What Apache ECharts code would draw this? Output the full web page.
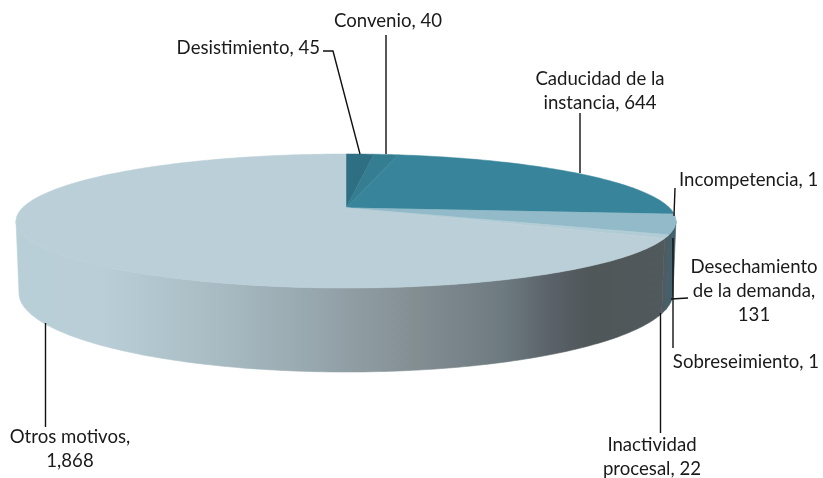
<!DOCTYPE html>
<html>
<head>
<meta charset="utf-8">
<style>
  html, body { margin: 0; padding: 0; background: #fff; }
  #chart { width: 823px; height: 478px; }
</style>
<script src="https://cdn.jsdelivr.net/npm/echarts@6/dist/echarts.min.js"></script>
</head>
<body>
<div id="chart"></div>
<script>
// clockwise from 12 o'clock
const categories = ['Desistimiento', 'Convenio', 'Caducidad de la\ninstancia', 'Incompetencia', 'Desechamiento\nde la demanda', 'Sobreseimiento', 'Inactividad\nprocesal', 'Otros motivos']
const values = [45, 40, 644, 1, 131, 1, 22, 1868]
const separators = [', ', ', ', ', ', ', ', ',\n', ', ', ', ', ',\n']

const topColors = ['#2f6f83', '#357d91', '#38859b', '#7fb0c0', '#93bac9', '#a3c4d0', '#b2ccd6', '#bacfd7']
const wallColors = ['#2f6f83', '#357d91', '#38859b', '#5b7f8c', '#43606c', '#4a5f68', '#4d5c62', null]
const wallStops = [
  [0, '#b9cfd8'], [0.13, '#b9ced7'], [0.3, '#a9bcc4'], [0.46, '#96a6ac'], [0.6, '#848f94'],
  [0.74, '#6d7a80'], [0.81, '#5a6169'], [0.87, '#505759'], [1, '#50595c'],
]

// label anchors and leader lines, same order as categories
const labelAnchors = [
  [320, 48, 'right'], [388, 21, 'center'], [600, 91, 'center'], [679, 180, 'left'],
  [754, 291, 'center'], [746, 362, 'center'], [652, 457, 'center'], [70, 449, 'center'],
]
const leaders = [
  [[323, 51], [333, 51], [360, 154]],
  [[386, 35], [386, 154]],
  [[580, 113], [580, 173]],
  [[675, 188], [674, 216]],
  [[688, 298], [671, 299]],
  [[673, 348], [673, 238]],
  [[660.5, 433], [660.5, 313]],
  [[45.5, 427], [45.5, 323]],
]

// perspective of the pie top and the ellipse of its bottom rim
const cx = 346, cy = 208, radius = 323.7, depth = 64.5, tilt = 0.194
const edgeRx = 330, rimRx = 327, rimY = 293, rimRy = 79
const wallFrom = 101, wallTo = 259

const total = values.reduce((a, b) => a + b, 0)

function topPoint(deg) {
  const t = deg * Math.PI / 180
  const u = Math.sin(t), v = Math.cos(t), w = 1 + tilt * v
  return [cx + radius * u / w, cy - depth * v / w]
}

function rimPoint(p) {
  const f = Math.max(-1, Math.min(1, (p[0] - cx) / edgeRx))
  return [cx + f * rimRx, rimY + rimRy * Math.sqrt(1 - f * f)]
}

function arc(from, to) {
  const pts = []
  const n = Math.max(2, Math.ceil((to - from) / 1))
  for (let i = 0; i <= n; i++) pts.push(topPoint(from + (to - from) * i / n))
  return pts
}

function renderSlice(params, api) {
  const i = params.dataIndex
  const before = values.slice(0, i).reduce((a, b) => a + b, 0)
  const start = before / total * 360
  const end = (before + api.value(0)) / total * 360
  const children = []

  const from = Math.max(start, wallFrom), to = Math.min(end, wallTo)
  if (to > from) {
    const front = arc(from, to)
    const fill = wallColors[i] || new echarts.graphic.LinearGradient(16, 0, 676, 0,
      wallStops.map((s) => ({ offset: s[0], color: s[1] })), true)
    children.push({
      type: 'polygon',
      z2: 1,
      shape: { points: front.concat(front.map(rimPoint).reverse()) },
      style: { fill: fill, stroke: fill, lineWidth: 0.6 },
    })
  }

  children.push({
    type: 'polygon',
    z2: 2,
    shape: { points: [[cx, cy]].concat(arc(start, end)) },
    style: { fill: topColors[i], stroke: topColors[i], lineWidth: 0.5 },
  })
  children.push({
    type: 'polyline',
    z2: 3,
    shape: { points: leaders[i] },
    style: { fill: 'none', stroke: '#111', lineWidth: 1.4 },
  })
  children.push({
    type: 'text',
    z2: 4,
    x: labelAnchors[i][0],
    y: labelAnchors[i][1],
    style: {
      text: categories[i] + separators[i] + api.value(0).toLocaleString('en-US'),
      fill: '#1a1a1a',
      font: '18.6px Lato',
      lineHeight: 24,
      align: labelAnchors[i][2],
      verticalAlign: 'middle',
    },
  })
  return { type: 'group', children }
}

const chart = echarts.init(document.getElementById('chart'), null, { renderer: 'canvas' })
chart.setOption({
  animation: false,
  backgroundColor: '#fff',
  series: [{
    type: 'custom',
    coordinateSystem: 'none',
    renderItem: renderSlice,
    data: values,
    clip: false,
  }],
})
</script>
</body>
</html>
